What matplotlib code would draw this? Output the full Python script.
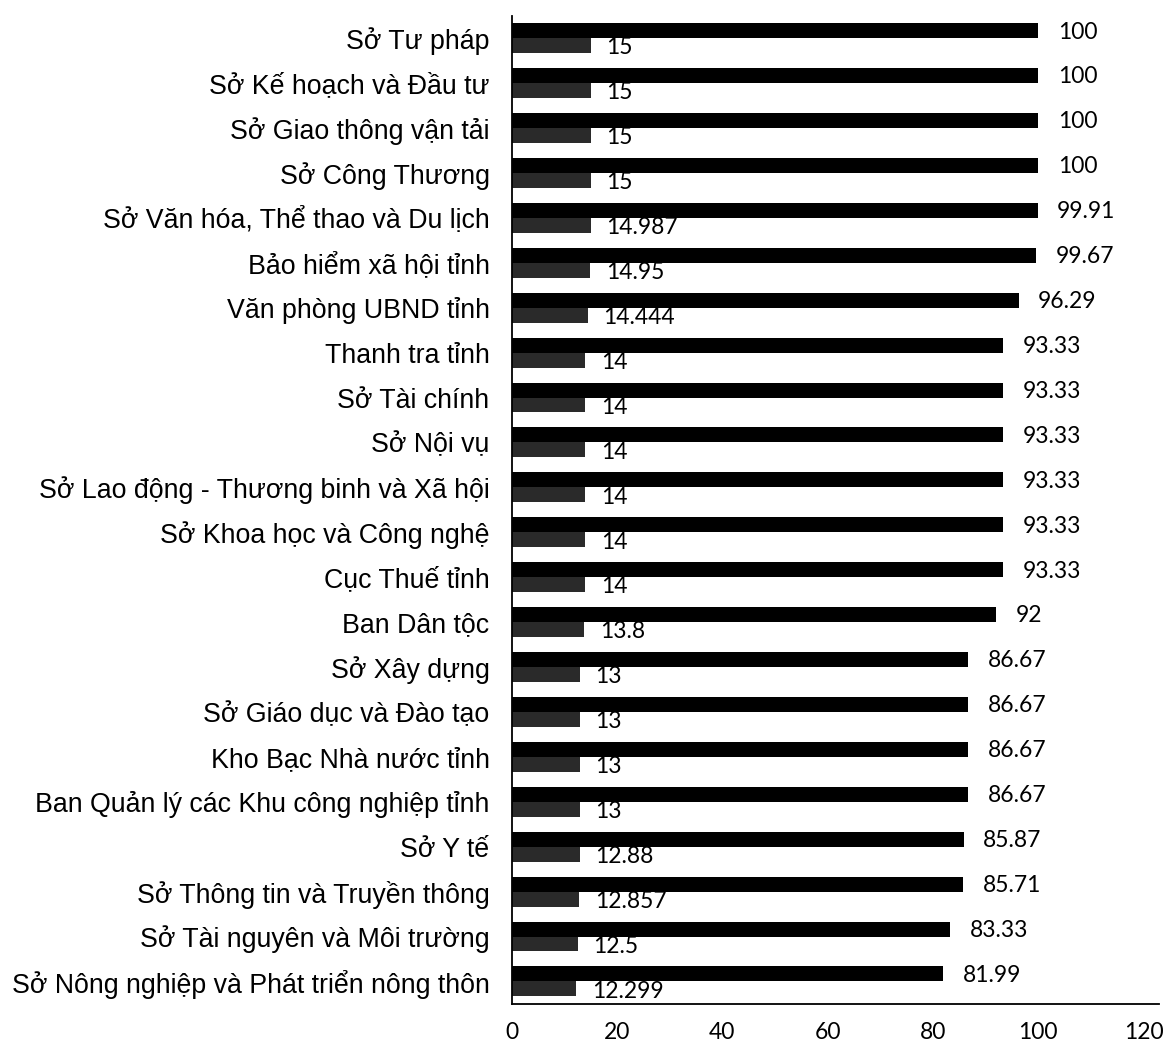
import matplotlib
matplotlib.use("Agg")
import matplotlib.pyplot as plt
import numpy as np

categories = [
    "Sở Tư pháp",
    "Sở Kế hoạch và Đầu tư",
    "Sở Giao thông vận tải",
    "Sở Công Thương",
    "Sở Văn hóa, Thể thao và Du lịch",
    "Bảo hiểm xã hội tỉnh",
    "Văn phòng UBND tỉnh",
    "Thanh tra tỉnh",
    "Sở Tài chính",
    "Sở Nội vụ",
    "Sở Lao động - Thương binh và Xã hội",
    "Sở Khoa học và Công nghệ",
    "Cục Thuế tỉnh",
    "Ban Dân tộc",
    "Sở Xây dựng",
    "Sở Giáo dục và Đào tạo",
    "Kho Bạc Nhà nước tỉnh",
    "Ban Quản lý các Khu công nghiệp tỉnh",
    "Sở Y tế",
    "Sở Thông tin và Truyền thông",
    "Sở Tài nguyên và Môi trường",
    "Sở Nông nghiệp và Phát triển nông thôn",
]

percent = [100, 100, 100, 100, 99.91, 99.67, 96.29, 93.33, 93.33, 93.33, 93.33,
           93.33, 93.33, 92, 86.67, 86.67, 86.67, 86.67, 85.87, 85.71, 83.33, 81.99]

score = [15, 15, 15, 15, 14.987, 14.95, 14.444, 14, 14, 14, 14, 14, 14, 13.8,
         13, 13, 13, 13, 12.88, 12.857, 12.5, 12.299]

x_ticks = [0, 20, 40, 60, 80, 100, 120]

fig = plt.figure(figsize=(11.71, 10.49), dpi=100)
ax = fig.add_axes([0.437, 0.043, 0.553, 0.942])

y = np.arange(len(categories))
h = 1 / 3

ax.barh(y - h / 2, percent, height=h, color="black", zorder=2)
ax.barh(y + h / 2, score, height=h, color="#2a2a2a", zorder=2)

val_font = dict(family=["Lato", "DejaVu Sans"], fontsize=16.5, color="black")
for yi, p, s in zip(y, percent, score):
    ax.annotate(f"{p:g}", xy=(p, yi - h / 2 + 0.03), xytext=(14, 0),
                textcoords="offset points", va="center", ha="left", **val_font)
    ax.annotate(f"{s:g}", xy=(s, yi + h / 2 + 0.05), xytext=(11, 0),
                textcoords="offset points", va="center", ha="left", **val_font)

ax.set_xlim(0, 123)
ax.set_ylim(len(categories) - 0.5, -0.5)

ax.set_yticks(y)
ax.set_yticklabels(categories, family=["Liberation Sans", "DejaVu Sans"], fontsize=19.3)
ax.set_xticks(x_ticks)
ax.set_xticklabels([str(t) for t in x_ticks], family=["Lato", "DejaVu Sans"], fontsize=16.5)
ax.tick_params(axis="both", length=0)
ax.tick_params(axis="y", pad=16)
ax.tick_params(axis="x", pad=13)

for side in ("top", "right"):
    ax.spines[side].set_visible(False)
for side in ("left", "bottom"):
    ax.spines[side].set_linewidth(1.3)
    ax.spines[side].set_color("black")

fig.savefig("out.png", dpi=100, facecolor="white")
